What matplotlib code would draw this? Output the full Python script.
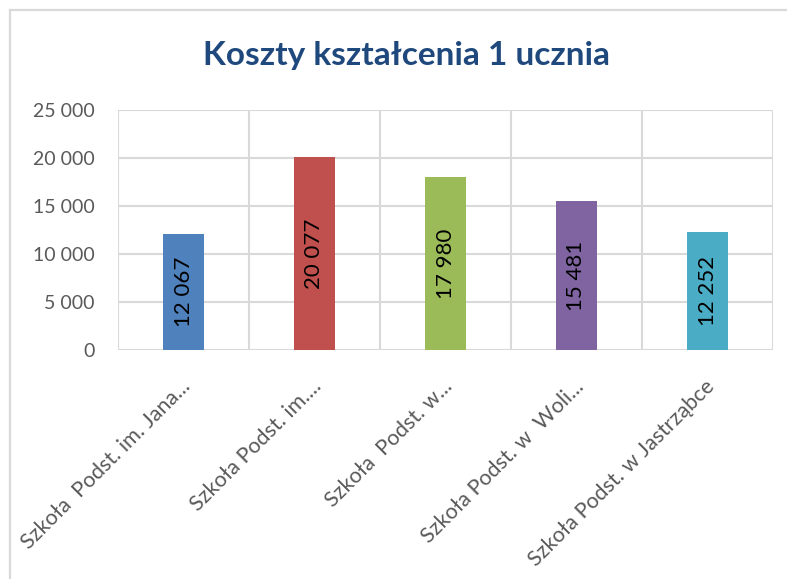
import matplotlib
matplotlib.use("Agg")
import matplotlib.pyplot as plt
from matplotlib.lines import Line2D
from matplotlib.ticker import FuncFormatter, MultipleLocator
from matplotlib.transforms import ScaledTranslation

categories = ["Szkoła  Podst. im. Jana...", "Szkoła Podst. im....", "Szkoła  Podst. w...",
              "Szkoła Podst. w  Woli...", "Szkoła Podst. w Jastrząbce"]
values = [12067, 20077, 17980, 15481, 12252]
colors = ["#4F81BD", "#C0504D", "#9BBB59", "#8064A2", "#4BACC6"]
title = "Koszty kształcenia 1 ucznia"

plt.rcParams['font.family'] = ['Lato', 'DejaVu Sans']

fig = plt.figure(figsize=(7.87, 5.79), dpi=100)
W, H = 787, 579
fig.lines.append(Line2D([10 / W, 10 / W], [0, 1 - 10 / H], transform=fig.transFigure,
                        color="#D9D9D9", linewidth=1.6))
fig.lines.append(Line2D([10 / W, 1], [1 - 10 / H, 1 - 10 / H], transform=fig.transFigure,
                        color="#D9D9D9", linewidth=1.6))

ax = fig.add_axes([118 / W, 1 - 350 / H, (773 - 118) / W, (350 - 110) / H])
x = list(range(len(categories)))
bars = ax.bar(x, values, width=0.32, color=colors, zorder=3)
ax.set_xlim(-0.5, len(categories) - 0.5)
ax.set_ylim(0, 25000)
ax.yaxis.set_major_locator(MultipleLocator(5000))
ax.yaxis.set_major_formatter(FuncFormatter(lambda v, p: f"{int(v):,}".replace(",", " ")))
ax.grid(axis='y', color="#D9D9D9", linewidth=1.5, zorder=0)
for b in [i - 0.5 for i in range(len(categories) + 1)]:
    ax.axvline(b, color="#D9D9D9", linewidth=1.5, zorder=0)
for s in ax.spines.values():
    s.set_visible(False)
ax.tick_params(axis='both', length=0, colors="#595959", labelsize=14)
ax.tick_params(axis='y', pad=17)
ax.set_xticks(x)
ax.set_xticklabels(categories, rotation=45, ha='right', va='center', rotation_mode='anchor',
                   fontsize=15.5)
ax.tick_params(axis='x', pad=24)
off = ScaledTranslation(4 / 100, 0, fig.dpi_scale_trans)
for lbl in ax.get_xticklabels():
    lbl.set_transform(lbl.get_transform() + off)

for rect, v in zip(bars, values):
    ax.text(rect.get_x() + rect.get_width() / 2, v / 2, f"{v:,}".replace(",", " "),
            rotation=90, ha='center', va='center', fontsize=16, color="black", zorder=4)

fig.text(406 / W, 1 - 55 / H, title, ha='center', va='center', fontsize=24,
         fontweight='bold', color="#1F497D")

fig.savefig("out.png", dpi=100)
